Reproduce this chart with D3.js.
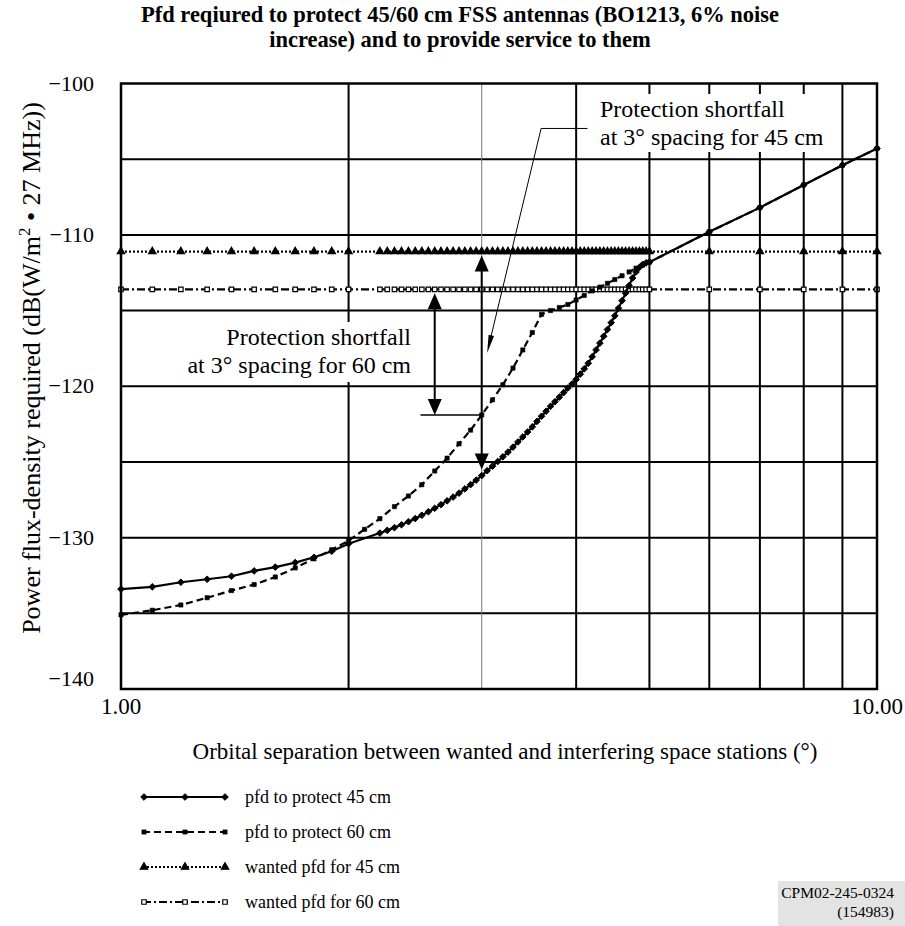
<!DOCTYPE html>
<html>
<head>
<meta charset="utf-8">
<script src="https://cdn.jsdelivr.net/npm/d3@7"></script>
<style>
  body { margin: 0; background: #fff; }
  text { font-family: "Liberation Serif", "Times New Roman", serif; fill: #000; }
</style>
</head>
<body>
<svg id="chart" width="905" height="926"></svg>
<script>
// ---- Orbital separation (degrees) at which each series is sampled ----
const sepCoarse = [1.0, 1.1, 1.2, 1.3, 1.4, 1.5, 1.6, 1.7, 1.8, 1.9, 2.0];
const sepDense = [2.2, 2.25, 2.3, 2.35, 2.4, 2.45, 2.5, 2.55, 2.6, 2.65, 2.7, 2.75, 2.8, 2.85, 2.9, 2.95,
                  3.0, 3.05, 3.1, 3.15, 3.2, 3.25, 3.3, 3.35, 3.4, 3.45, 3.5, 3.55, 3.6, 3.65, 3.7, 3.75,
                  3.8, 3.85, 3.9, 3.95, 4.0, 4.05, 4.1, 4.15, 4.2, 4.25, 4.3, 4.35, 4.4, 4.45, 4.5, 4.55,
                  4.6, 4.65, 4.7, 4.75, 4.8, 4.85, 4.9, 4.95, 5.0];
const sepWide = [6, 7, 8, 9, 10];
const sepTenths = [1.0, 1.1, 1.2, 1.3, 1.4, 1.5, 1.6, 1.7, 1.8, 1.9, 2.0, 2.1, 2.2, 2.3, 2.4, 2.5, 2.6, 2.7,
                   2.8, 2.9, 3.0, 3.1, 3.2, 3.3, 3.4, 3.5, 3.6, 3.7, 3.8, 3.9, 4.0, 4.1, 4.2, 4.3, 4.4, 4.5,
                   4.6, 4.7, 4.8, 4.9, 5.0];

// ---- pfd to protect 45 cm (dB(W/m2 in 27 MHz)) ----
const protect45Coarse = [-133.4, -133.25, -132.95, -132.75, -132.55, -132.2, -131.95, -131.65, -131.3, -130.9, -130.4];
const protect45Dense = [-129.70, -129.52, -129.34, -129.15, -128.95, -128.74, -128.52, -128.29, -128.06, -127.82,
                        -127.57, -127.32, -127.06, -126.78, -126.50, -126.20, -125.90, -125.58, -125.28, -124.97,
                        -124.66, -124.35, -124.02, -123.68, -123.35, -123.02, -122.68, -122.32, -121.98, -121.65,
                        -121.32, -121.02, -120.72, -120.42, -120.12, -119.85, -119.55, -119.20, -118.85, -118.48,
                        -118.05, -117.60, -117.15, -116.70, -116.25, -115.80, -115.35, -114.85, -114.35, -113.85,
                        -113.35, -112.85, -112.45, -112.15, -111.95, -111.85, -111.80];
const protect45Wide = [-109.8, -108.2, -106.7, -105.4, -104.3];

// ---- pfd to protect 60 cm ----
const protect60Tenths = [-135.1, -134.8, -134.45, -133.97, -133.5, -133.1, -132.6, -132.0, -131.4, -130.8, -130.2,
                         -129.45, -128.75, -127.95, -127.25, -126.5, -125.6, -124.75, -123.8, -122.9, -121.9,
                         -120.9, -119.9, -118.8, -117.6, -116.45, -115.25, -115.0, -114.8, -114.6, -114.3,
                         -114.0, -113.7, -113.45, -113.2, -112.95, -112.7, -112.45, -112.2, -112.0, -111.8];
const protect60Wide = [-109.8, -108.2, -106.7, -105.4, -104.3];

// ---- wanted pfd for 45 cm / 60 cm (flat) ----
const wanted45Coarse = [-111.1, -111.1, -111.1, -111.1, -111.1, -111.1, -111.1, -111.1, -111.1, -111.1, -111.1];
const wanted45Dense = [-111.1, -111.1, -111.1, -111.1, -111.1, -111.1, -111.1, -111.1, -111.1, -111.1,
                       -111.1, -111.1, -111.1, -111.1, -111.1, -111.1, -111.1, -111.1, -111.1, -111.1,
                       -111.1, -111.1, -111.1, -111.1, -111.1, -111.1, -111.1, -111.1, -111.1, -111.1,
                       -111.1, -111.1, -111.1, -111.1, -111.1, -111.1, -111.1, -111.1, -111.1, -111.1,
                       -111.1, -111.1, -111.1, -111.1, -111.1, -111.1, -111.1, -111.1, -111.1, -111.1,
                       -111.1, -111.1, -111.1, -111.1, -111.1, -111.1, -111.1];
const wanted45Wide = [-111.1, -111.1, -111.1, -111.1, -111.1];
const wanted60Coarse = [-113.6, -113.6, -113.6, -113.6, -113.6, -113.6, -113.6, -113.6, -113.6, -113.6, -113.6];
const wanted60Dense = [-113.6, -113.6, -113.6, -113.6, -113.6, -113.6, -113.6, -113.6, -113.6, -113.6,
                       -113.6, -113.6, -113.6, -113.6, -113.6, -113.6, -113.6, -113.6, -113.6, -113.6,
                       -113.6, -113.6, -113.6, -113.6, -113.6, -113.6, -113.6, -113.6, -113.6, -113.6,
                       -113.6, -113.6, -113.6, -113.6, -113.6, -113.6, -113.6, -113.6, -113.6, -113.6,
                       -113.6, -113.6, -113.6, -113.6, -113.6, -113.6, -113.6, -113.6, -113.6, -113.6,
                       -113.6, -113.6, -113.6, -113.6, -113.6, -113.6, -113.6];
const wanted60Wide = [-113.6, -113.6, -113.6, -113.6, -113.6];

// ---- axes ----
const yTickValues = [-100, -110, -120, -130, -140];
const yGridValues = [-135, -130, -125, -120, -115, -110, -105];
const xGridValues = [2, 4, 5, 6, 7, 8, 9];
const xFineGrid = [3];
const xTickValues = [1, 10];
const xTickLabels = ["1.00", "10.00"];

const titleLines = ["Pfd reqiured to protect 45/60 cm FSS antennas (BO1213, 6% noise",
                    "increase) and to provide service to them"];
const legendLabels = ["pfd to protect 45 cm", "pfd to protect 60 cm", "wanted pfd for 45 cm", "wanted pfd for 60 cm"];

// ---------------------------------------------------------------------------
const svg = d3.select("#chart");
const plot = { left: 121, right: 877, top: 83.5, bottom: 689 };
const x = d3.scaleLog().domain([1, 10]).range([plot.left, plot.right]);
const y = d3.scaleLinear().domain([-140, -100]).range([plot.bottom, plot.top]);

// square-bodied diamond (a square turned 45 degrees)
const symbolRhomb = {
  draw(ctx, size) {
    const r = Math.sqrt(size / 2);
    ctx.moveTo(0, -r); ctx.lineTo(r, 0); ctx.lineTo(0, r); ctx.lineTo(-r, 0); ctx.closePath();
  }
};

const zip = (xs, ys) => xs.map((v, i) => ({ x: v, y: ys[i] }));
const series = [
  { name: legendLabels[0],
    pts: zip(sepCoarse.concat(sepDense, sepWide), protect45Coarse.concat(protect45Dense, protect45Wide)),
    dash: null, width: 2.2, sym: symbolRhomb, size: 22, fill: "#000", stroke: 1 },
  { name: legendLabels[1],
    pts: zip(sepTenths.concat(sepWide), protect60Tenths.concat(protect60Wide)),
    dash: "7,4", width: 2.2, sym: d3.symbolSquare, size: 18, fill: "#000", stroke: 0.6 },
  { name: legendLabels[2],
    pts: zip(sepCoarse.concat(sepDense, sepWide), wanted45Coarse.concat(wanted45Dense, wanted45Wide)),
    dash: "2,2", width: 2.2, sym: d3.symbolTriangle, size: 24, fill: "#000", stroke: 1.2 },
  { name: legendLabels[3],
    pts: zip(sepCoarse.concat(sepDense, sepWide), wanted60Coarse.concat(wanted60Dense, wanted60Wide)),
    dash: "8,3,2,3", width: 2.2, sym: d3.symbolSquare, size: 20, fill: "#fff", stroke: 1.2 }
];

// Title
svg.append("g").selectAll("text").data(titleLines).join("text")
  .attr("x", 460).attr("y", (d, i) => 22 + i * 25)
  .attr("text-anchor", "middle").attr("font-weight", "bold").attr("font-size", 22.5)
  .text(d => d);

// Grid
const grid = svg.append("g");
grid.selectAll(".hg").data(yGridValues).join("line")
  .attr("x1", plot.left).attr("x2", plot.right)
  .attr("y1", d => y(d)).attr("y2", d => y(d))
  .attr("stroke", "#000").attr("stroke-width", 2);
grid.selectAll(".vg").data(xGridValues).join("line")
  .attr("x1", d => x(d)).attr("x2", d => x(d))
  .attr("y1", plot.top).attr("y2", plot.bottom)
  .attr("stroke", "#000").attr("stroke-width", 2);
grid.selectAll(".vf").data(xFineGrid).join("line")
  .attr("x1", d => x(d)).attr("x2", d => x(d))
  .attr("y1", plot.top).attr("y2", plot.bottom)
  .attr("stroke", "#777").attr("stroke-width", 1);

// Annotation text blocks (white backing hides the grid behind them)
const notes = [
  { lines: ["Protection shortfall", "at 3\u00B0 spacing for 45 cm"], ax: 600, ay: 117, anchor: "start", box: [594, 94, 236, 58] },
  { lines: ["Protection shortfall", "at 3\u00B0 spacing for 60 cm"], ax: 411, ay: 345, anchor: "end", box: [215, 322, 201, 60] }
];
const noteG = svg.append("g");
notes.forEach(n => {
  noteG.append("rect").attr("x", n.box[0]).attr("y", n.box[1]).attr("width", n.box[2]).attr("height", n.box[3]).attr("fill", "#fff");
  noteG.append("g").selectAll("text").data(n.lines).join("text")
    .attr("x", n.ax).attr("y", (d, i) => n.ay + i * 28)
    .attr("text-anchor", n.anchor).attr("font-size", 24).text(d => d);
});

// Series lines and markers
const line = d3.line().x(d => x(d.x)).y(d => y(d.y));
const seriesG = svg.append("g");
[2, 3, 1, 0].forEach(k => {
  const s = series[k];
  seriesG.append("path").datum(s.pts).attr("d", line)
    .attr("fill", "none").attr("stroke", "#000").attr("stroke-width", s.width)
    .attr("stroke-dasharray", s.dash);
  seriesG.append("g").selectAll("path").data(s.pts).join("path")
    .attr("transform", d => `translate(${x(d.x)},${y(d.y)})`)
    .attr("d", d3.symbol().type(s.sym).size(s.size))
    .attr("fill", s.fill).attr("stroke", "#000").attr("stroke-width", s.stroke);
});

// Shortfall arrows
const arrowG = svg.append("g");
function head(px, py, dir, w, h) {
  // filled triangle with its tip at (px, py); dir = -1 points up, +1 points down
  return `M${px},${py}L${px - w / 2},${py - dir * h}L${px + w / 2},${py - dir * h}Z`;
}
function doubleArrow(sep, top, bottom) {
  const ax = x(sep), y1 = y(top) + 4, y2 = y(bottom);
  arrowG.append("line").attr("x1", ax).attr("x2", ax).attr("y1", y1 + 12).attr("y2", y2 - 12)
    .attr("stroke", "#000").attr("stroke-width", 2);
  arrowG.append("path").attr("d", head(ax, y1, -1, 14, 16)).attr("fill", "#000");
  arrowG.append("path").attr("d", head(ax, y2, 1, 14, 16)).attr("fill", "#000");
}
const shortfall60 = { sep: 2.6, top: -113.6, bottom: -121.9, tickFrom: 2.49 };
const shortfall45 = { sep: 3.0, top: -111.1, bottom: -125.5 };
doubleArrow(shortfall60.sep, shortfall60.top, shortfall60.bottom);
arrowG.append("line")
  .attr("x1", x(shortfall60.tickFrom)).attr("x2", x(3.0))
  .attr("y1", y(shortfall60.bottom)).attr("y2", y(shortfall60.bottom))
  .attr("stroke", "#000").attr("stroke-width", 1.5);
doubleArrow(shortfall45.sep, shortfall45.top, shortfall45.bottom);

// Leader from the 45 cm note to its arrow
const leader = [[4.14, -102.97], [3.595, -102.97], [3.05, -117.8]];
const lp = leader.map(p => [x(p[0]), y(p[1])]);
arrowG.append("path").attr("d", d3.line()(lp.slice(0, 2).concat([[lp[2][0] + 3.5, lp[2][1] - 15]])))
  .attr("fill", "none").attr("stroke", "#000").attr("stroke-width", 1);
{
  const [tx, ty] = lp[2], [sx, sy] = lp[1];
  const L = Math.hypot(tx - sx, ty - sy), ux = (tx - sx) / L, uy = (ty - sy) / L;
  const bx = tx - ux * 18, by = ty - uy * 18;
  arrowG.append("path")
    .attr("d", `M${tx},${ty}L${bx - uy * 2.8},${by + ux * 2.8}L${bx + uy * 2.8},${by - ux * 2.8}Z`)
    .attr("fill", "#000");
}

// Frame
svg.append("rect").attr("x", plot.left).attr("y", plot.top)
  .attr("width", plot.right - plot.left).attr("height", plot.bottom - plot.top)
  .attr("fill", "none").attr("stroke", "#000").attr("stroke-width", 2.5);

// Axis labels
svg.append("g").selectAll("text").data(yTickValues).join("text")
  .attr("x", 94).attr("y", d => y(d) + (d === -140 ? -3 : 7))
  .attr("text-anchor", "end").attr("font-size", 22)
  .text(d => d3.format("d")(d).replace("-", "\u2212"));
svg.append("g").selectAll("text").data(xTickValues).join("text")
  .attr("x", d => x(d)).attr("y", 714)
  .attr("text-anchor", "middle").attr("font-size", 23)
  .text((d, i) => xTickLabels[i]);

svg.append("text").attr("x", 505).attr("y", 759).attr("text-anchor", "middle").attr("font-size", 23)
  .text("Orbital separation between wanted and interfering space stations (\u00B0)");

const yTitle = svg.append("text").attr("transform", "translate(40,368) rotate(-90)")
  .attr("text-anchor", "middle").attr("font-size", 26);
yTitle.append("tspan").text("Power flux-density required (dB(W/m");
yTitle.append("tspan").attr("font-size", 17).attr("dy", -10).text("2");
yTitle.append("tspan").attr("dy", 10).text(" \u2022 27 MHz))");

// Legend
const legendG = svg.append("g");
series.forEach((s, i) => {
  const ly = 797 + i * 35;
  legendG.append("line").attr("x1", 143).attr("x2", 228).attr("y1", ly).attr("y2", ly)
    .attr("stroke", "#000").attr("stroke-width", 2.2).attr("stroke-dasharray", s.dash);
  legendG.append("g").selectAll("path").data([144, 185, 225]).join("path")
    .attr("transform", d => `translate(${d},${ly})`)
    .attr("d", d3.symbol().type(s.sym).size(s.size))
    .attr("fill", s.fill).attr("stroke", "#000").attr("stroke-width", s.stroke);
  legendG.append("text").attr("x", 245).attr("y", ly + 6).attr("font-size", 18).text(s.name);
});

// Document reference
svg.append("rect").attr("x", 778).attr("y", 881).attr("width", 127).attr("height", 45).attr("fill", "#e3e3e3");
svg.append("text").attr("x", 894).attr("y", 898).attr("text-anchor", "end").attr("font-size", 15.5).text("CPM02-245-0324");
svg.append("text").attr("x", 894).attr("y", 917).attr("text-anchor", "end").attr("font-size", 15.5).text("(154983)");
</script>
</body>
</html>
